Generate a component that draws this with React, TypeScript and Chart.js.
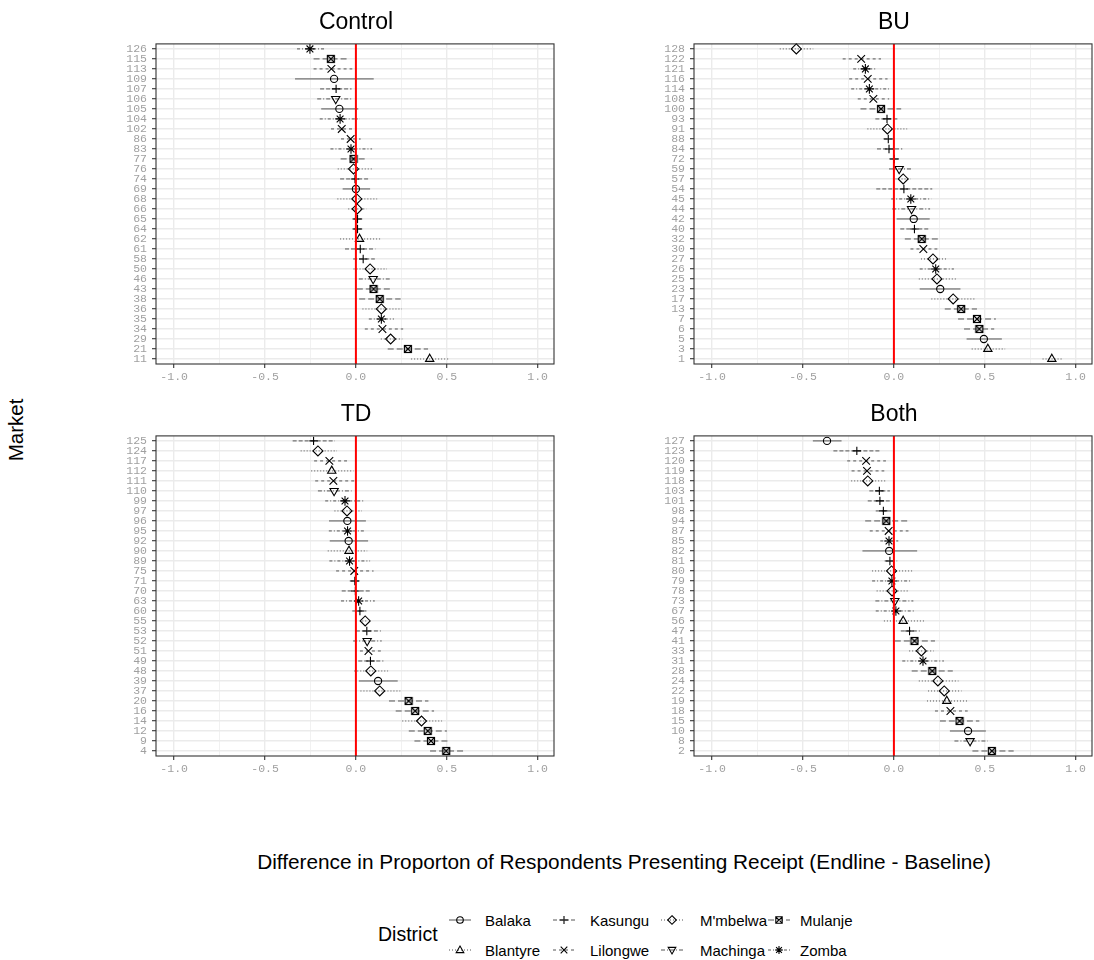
import React, { useEffect, useRef } from 'react';
import { Chart, registerables } from 'chart.js';

Chart.register(...registerables);

// ---------------- DATA ----------------
const districts = ['Balaka', 'Blantyre', 'Kasungu', 'Lilongwe', "M'mbelwa", 'Machinga', 'Mulanje', 'Zomba'];
const xTickValues = [-1, -0.75, -0.5, -0.25, 0, 0.25, 0.5, 0.75, 1];

// Control
const controlMarkets = ['126', '115', '113', '109', '107', '106', '105', '104', '102', '86', '83', '77', '76', '74', '69', '68', '66', '65', '64', '62', '61', '58', '50', '46', '43', '38', '36', '35', '34', '29', '21', '11'];
const controlDistrict = ['Zomba', 'Mulanje', 'Lilongwe', 'Balaka', 'Kasungu', 'Machinga', 'Balaka', 'Zomba', 'Lilongwe', 'Lilongwe', 'Zomba', 'Mulanje', "M'mbelwa", 'Kasungu', 'Balaka', "M'mbelwa", "M'mbelwa", 'Kasungu', 'Kasungu', 'Blantyre', 'Kasungu', 'Kasungu', "M'mbelwa", 'Machinga', 'Mulanje', 'Mulanje', "M'mbelwa", 'Zomba', 'Lilongwe', "M'mbelwa", 'Mulanje', 'Blantyre'];
const controlEst = [-0.253, -0.138, -0.135, -0.12, -0.109, -0.111, -0.091, -0.087, -0.078, -0.029, -0.027, -0.013, -0.013, -0.005, 0.0, 0.005, 0.007, 0.009, 0.009, 0.02, 0.024, 0.04, 0.078, 0.095, 0.097, 0.131, 0.14, 0.14, 0.146, 0.191, 0.286, 0.406];
const controlLo = [-0.324, -0.233, -0.233, -0.335, -0.197, -0.213, -0.191, -0.199, -0.137, -0.082, -0.14, -0.084, -0.1, -0.087, -0.073, -0.102, -0.042, -0.02, -0.02, -0.087, -0.06, -0.015, -0.013, 0.016, 0.005, 0.018, 0.036, 0.071, 0.049, 0.137, 0.175, 0.304];
const controlHi = [-0.169, -0.038, -0.02, 0.098, -0.024, -0.015, 0.013, 0.022, -0.02, 0.026, 0.089, 0.064, 0.089, 0.078, 0.078, 0.117, 0.058, 0.04, 0.04, 0.133, 0.107, 0.104, 0.171, 0.186, 0.2, 0.246, 0.253, 0.209, 0.26, 0.255, 0.397, 0.51];

// BU
const buMarkets = ['128', '122', '121', '116', '114', '108', '100', '93', '91', '88', '84', '72', '59', '57', '54', '45', '44', '42', '40', '32', '30', '27', '26', '25', '23', '17', '13', '7', '6', '5', '3', '1'];
const buDistrict = ["M'mbelwa", 'Lilongwe', 'Zomba', 'Lilongwe', 'Zomba', 'Lilongwe', 'Mulanje', 'Kasungu', "M'mbelwa", 'Kasungu', 'Kasungu', 'Kasungu', 'Machinga', "M'mbelwa", 'Kasungu', 'Zomba', 'Machinga', 'Balaka', 'Kasungu', 'Mulanje', 'Lilongwe', "M'mbelwa", 'Zomba', "M'mbelwa", 'Balaka', "M'mbelwa", 'Mulanje', 'Mulanje', 'Mulanje', 'Balaka', 'Blantyre', 'Blantyre'];
const buEst = [-0.537, -0.18, -0.157, -0.144, -0.135, -0.113, -0.071, -0.038, -0.036, -0.031, -0.027, 0.002, 0.029, 0.051, 0.055, 0.093, 0.097, 0.109, 0.113, 0.153, 0.162, 0.215, 0.23, 0.237, 0.255, 0.326, 0.37, 0.457, 0.47, 0.495, 0.517, 0.869];
const buLo = [-0.628, -0.282, -0.224, -0.246, -0.235, -0.199, -0.184, -0.102, -0.146, -0.058, -0.093, -0.027, -0.027, 0.009, -0.097, -0.015, -0.009, 0.015, 0.035, 0.06, 0.091, 0.149, 0.142, 0.137, 0.142, 0.206, 0.28, 0.353, 0.386, 0.4, 0.428, 0.818];
const buHi = [-0.444, -0.071, -0.095, -0.035, -0.027, -0.026, 0.04, 0.026, 0.073, -0.002, 0.046, 0.033, 0.097, 0.093, 0.211, 0.206, 0.199, 0.197, 0.189, 0.25, 0.239, 0.29, 0.33, 0.341, 0.366, 0.443, 0.457, 0.561, 0.552, 0.594, 0.612, 0.925];

// TD
const tdMarkets = ['125', '124', '117', '112', '111', '110', '99', '97', '96', '95', '92', '90', '89', '75', '71', '70', '63', '60', '55', '53', '52', '51', '49', '48', '39', '37', '20', '16', '14', '12', '9', '4'];
const tdDistrict = ['Kasungu', "M'mbelwa", 'Lilongwe', 'Blantyre', 'Lilongwe', 'Machinga', 'Zomba', "M'mbelwa", 'Balaka', 'Zomba', 'Balaka', 'Blantyre', 'Zomba', 'Lilongwe', 'Kasungu', 'Kasungu', 'Zomba', 'Kasungu', "M'mbelwa", 'Kasungu', 'Machinga', 'Lilongwe', 'Kasungu', "M'mbelwa", 'Balaka', "M'mbelwa", 'Mulanje', 'Mulanje', "M'mbelwa", 'Mulanje', 'Mulanje', 'Mulanje'];
const tdEst = [-0.233, -0.209, -0.146, -0.133, -0.124, -0.12, -0.06, -0.049, -0.047, -0.046, -0.04, -0.038, -0.035, -0.009, -0.006, -0.003, 0.015, 0.022, 0.051, 0.06, 0.062, 0.069, 0.08, 0.082, 0.122, 0.131, 0.29, 0.326, 0.361, 0.395, 0.413, 0.497];
const tdLo = [-0.348, -0.304, -0.23, -0.246, -0.224, -0.209, -0.169, -0.118, -0.148, -0.149, -0.144, -0.155, -0.146, -0.109, -0.034, -0.078, -0.082, -0.02, 0.035, 0.0, -0.015, 0.022, 0.013, -0.009, 0.016, 0.025, 0.182, 0.219, 0.255, 0.291, 0.322, 0.408];
const tdHi = [-0.115, -0.104, -0.049, -0.013, -0.009, -0.024, 0.051, 0.033, 0.055, 0.046, 0.067, 0.062, 0.078, 0.097, 0.022, 0.08, 0.104, 0.058, 0.067, 0.137, 0.142, 0.137, 0.151, 0.177, 0.23, 0.244, 0.399, 0.43, 0.474, 0.501, 0.506, 0.599];

// Both
const bothMarkets = ['127', '123', '120', '119', '118', '103', '101', '98', '94', '87', '85', '82', '81', '80', '79', '78', '73', '67', '56', '47', '41', '33', '31', '28', '24', '22', '19', '18', '15', '10', '8', '2'];
const bothDistrict = ['Balaka', 'Kasungu', 'Lilongwe', 'Lilongwe', "M'mbelwa", 'Kasungu', 'Kasungu', 'Kasungu', 'Mulanje', 'Lilongwe', 'Zomba', 'Balaka', 'Kasungu', "M'mbelwa", 'Zomba', "M'mbelwa", 'Machinga', 'Zomba', 'Blantyre', 'Kasungu', 'Mulanje', "M'mbelwa", 'Zomba', 'Mulanje', "M'mbelwa", "M'mbelwa", 'Blantyre', 'Lilongwe', 'Mulanje', 'Balaka', 'Machinga', 'Mulanje'];
const bothEst = [-0.368, -0.204, -0.153, -0.148, -0.144, -0.08, -0.077, -0.058, -0.042, -0.029, -0.027, -0.026, -0.022, -0.013, -0.011, -0.01, 0.005, 0.011, 0.051, 0.086, 0.113, 0.151, 0.16, 0.211, 0.242, 0.277, 0.291, 0.311, 0.361, 0.408, 0.419, 0.539];
const bothLo = [-0.446, -0.333, -0.257, -0.233, -0.235, -0.135, -0.144, -0.1, -0.158, -0.133, -0.075, -0.173, -0.051, -0.12, -0.12, -0.095, -0.102, -0.1, -0.055, 0.038, 0.005, 0.084, 0.046, 0.098, 0.137, 0.188, 0.182, 0.226, 0.253, 0.308, 0.333, 0.432];
const bothHi = [-0.288, -0.075, -0.044, -0.053, -0.044, -0.022, -0.011, -0.015, 0.075, 0.08, 0.024, 0.128, 0.018, 0.1, 0.1, 0.077, 0.107, 0.117, 0.166, 0.142, 0.226, 0.219, 0.275, 0.324, 0.355, 0.372, 0.404, 0.406, 0.47, 0.506, 0.517, 0.659];

// ---------------- STYLE / LAYOUT ----------------
const XMIN = -1.1;
const XMAX = 1.09;
const PW = 398;
const PH = 322;
const YW = 60;
const PT = 10;
const PR = 8;
const XH = 30;
const FONT = "'Liberation Sans', Arial, Helvetica, sans-serif";
const MONO = "'Liberation Mono', 'DejaVu Sans Mono', monospace";

type DStyle = { shape: string; rotation: number; radius: number; dash: number[] };
const districtStyle: Record<string, DStyle> = {
  Balaka: { shape: 'circle', rotation: 0, radius: 3.6, dash: [] },
  Blantyre: { shape: 'triangle', rotation: 0, radius: 4.8, dash: [1, 2] },
  Kasungu: { shape: 'cross', rotation: 0, radius: 4.2, dash: [4, 2] },
  Lilongwe: { shape: 'crossRot', rotation: 0, radius: 5.4, dash: [3, 3] },
  "M'mbelwa": { shape: 'rectRot', rotation: 0, radius: 5, dash: [1, 2] },
  Machinga: { shape: 'triangle', rotation: 180, radius: 4.8, dash: [4, 2, 1, 2] },
  Mulanje: { shape: 'rect', rotation: 0, radius: 4, dash: [6, 3] },
  Zomba: { shape: 'star', rotation: 0, radius: 4.8, dash: [3, 2, 1, 2] },
};

type Panel = {
  title: string; markets: string[]; district: string[]; est: number[]; lo: number[]; hi: number[];
  left: number; top: number;
};

const panels: Panel[] = [
  { title: 'Control', markets: controlMarkets, district: controlDistrict, est: controlEst, lo: controlLo, hi: controlHi, left: 156, top: 42 },
  { title: 'BU', markets: buMarkets, district: buDistrict, est: buEst, lo: buLo, hi: buHi, left: 694, top: 42 },
  { title: 'TD', markets: tdMarkets, district: tdDistrict, est: tdEst, lo: tdLo, hi: tdHi, left: 156, top: 434 },
  { title: 'Both', markets: bothMarkets, district: bothDistrict, est: bothEst, lo: bothLo, hi: bothHi, left: 694, top: 434 },
];

function makeMulanjeMarker(): HTMLCanvasElement {
  const c = document.createElement('canvas');
  c.width = 10;
  c.height = 10;
  const g = c.getContext('2d')!;
  g.strokeStyle = '#000';
  g.lineWidth = 1.2;
  g.strokeRect(1.5, 1.5, 7, 7);
  g.beginPath();
  g.moveTo(1.5, 1.5); g.lineTo(8.5, 8.5);
  g.moveTo(8.5, 1.5); g.lineTo(1.5, 8.5);
  g.stroke();
  return c;
}

const isMajor = (v: number) => Math.abs(v * 2 - Math.round(v * 2)) < 1e-9;

const panelPlugin = {
  id: 'panelDecor',
  beforeDatasetsDraw(chart: any) {
    const ctx = chart.ctx;
    const xs = chart.scales.x;
    const area = chart.chartArea;
    ctx.save();
    ctx.beginPath();
    ctx.rect(area.left, area.top, area.right - area.left, area.bottom - area.top);
    ctx.clip();
    chart.data.datasets.forEach((ds: any, di: number) => {
      const meta = chart.getDatasetMeta(di);
      ctx.save();
      ctx.strokeStyle = '#555';
      ctx.lineWidth = 1;
      ctx.setLineDash(ds.errDash || []);
      meta.data.forEach((pt: any, i: number) => {
        const y = pt.y;
        ctx.beginPath();
        ctx.moveTo(xs.getPixelForValue(ds.errLo[i]), y);
        ctx.lineTo(xs.getPixelForValue(ds.errHi[i]), y);
        ctx.stroke();
      });
      ctx.restore();
    });
    ctx.restore();
  },
  afterDatasetsDraw(chart: any) {
    const ctx = chart.ctx;
    const xs = chart.scales.x;
    const area = chart.chartArea;
    ctx.save();
    const x0 = xs.getPixelForValue(0);
    ctx.strokeStyle = '#ff0000';
    ctx.lineWidth = 2;
    ctx.beginPath();
    ctx.moveTo(x0, area.top);
    ctx.lineTo(x0, area.bottom);
    ctx.stroke();
    ctx.strokeStyle = '#333333';
    ctx.lineWidth = 1.1;
    ctx.strokeRect(area.left, area.top, area.right - area.left, area.bottom - area.top);
    ctx.restore();
  },
};

function buildConfig(p: Panel, mul: HTMLCanvasElement): any {
  const datasets = districts
    .filter((d) => p.district.includes(d))
    .map((d) => {
      const idx = p.district.map((x, i) => (x === d ? i : -1)).filter((i) => i >= 0);
      const st = districtStyle[d];
      return {
        label: d,
        data: idx.map((i) => ({ x: p.est[i], y: p.markets[i] })),
        errLo: idx.map((i) => p.lo[i]),
        errHi: idx.map((i) => p.hi[i]),
        errDash: st.dash,
        pointStyle: d === 'Mulanje' ? mul : st.shape,
        pointRotation: st.rotation,
        pointRadius: st.radius,
        pointBorderColor: '#000',
        pointBackgroundColor: 'rgba(0,0,0,0)',
        pointBorderWidth: 1.1,
        showLine: false,
      };
    });
  return {
    type: 'scatter',
    data: { datasets },
    plugins: [panelPlugin],
    options: {
      responsive: false,
      animation: false,
      devicePixelRatio: 1,
      events: [],
      layout: { padding: { top: PT, right: PR, left: 0, bottom: 0 } },
      plugins: { legend: { display: false }, tooltip: { enabled: false }, title: { display: false } },
      scales: {
        x: {
          type: 'linear',
          min: XMIN,
          max: XMAX,
          afterFit: (s: any) => { s.height = XH; },
          afterBuildTicks: (s: any) => { s.ticks = xTickValues.map((v) => ({ value: v })); },
          ticks: {
            autoSkip: false,
            maxRotation: 0,
            padding: 2,
            color: '#a0a0a0',
            font: { family: MONO, size: 11.5 },
            callback: (v: any) => (isMajor(Number(v)) ? Number(v).toFixed(1) : ''),
          },
          grid: {
            color: '#ebebeb',
            lineWidth: (c: any) => (c.tick && isMajor(c.tick.value) ? 1.4 : 0.7),
            tickLength: 4,
            tickWidth: 1.1,
            tickColor: (c: any) => (c.tick && isMajor(c.tick.value) ? '#333333' : 'rgba(0,0,0,0)'),
          },
          border: { display: false },
        },
        y: {
          type: 'category',
          labels: p.markets,
          offset: true,
          afterFit: (s: any) => { s.width = YW; },
          ticks: {
            autoSkip: false,
            padding: 5,
            color: '#a0a0a0',
            font: { family: MONO, size: 11.5 },
          },
          grid: {
            offset: false,
            color: '#ebebeb',
            lineWidth: 1.4,
            tickLength: 4,
            tickWidth: 1.1,
            tickColor: '#333333',
          },
          border: { display: false },
        },
      },
    },
  };
}

function Marker({ d, cx, cy }: { d: string; cx: number; cy: number }) {
  const s = { fill: 'none', stroke: '#000', strokeWidth: 1.1 } as any;
  switch (d) {
    case 'Balaka':
      return <circle cx={cx} cy={cy} r={3.3} {...s} />;
    case 'Blantyre':
      return <polygon points={`${cx},${cy - 4} ${cx + 3.8},${cy + 2.6} ${cx - 3.8},${cy + 2.6}`} {...s} />;
    case 'Kasungu':
      return <path d={`M${cx - 4},${cy} H${cx + 4} M${cx},${cy - 4} V${cy + 4}`} {...s} />;
    case 'Lilongwe':
      return <path d={`M${cx - 3.3},${cy - 3.3} L${cx + 3.3},${cy + 3.3} M${cx + 3.3},${cy - 3.3} L${cx - 3.3},${cy + 3.3}`} {...s} />;
    case "M'mbelwa":
      return <polygon points={`${cx},${cy - 4.3} ${cx + 4.3},${cy} ${cx},${cy + 4.3} ${cx - 4.3},${cy}`} {...s} />;
    case 'Machinga':
      return <polygon points={`${cx},${cy + 4} ${cx + 3.8},${cy - 2.6} ${cx - 3.8},${cy - 2.6}`} {...s} />;
    case 'Mulanje':
      return <path d={`M${cx - 3.2},${cy - 3.2} h6.4 v6.4 h-6.4 Z M${cx - 3.2},${cy - 3.2} L${cx + 3.2},${cy + 3.2} M${cx + 3.2},${cy - 3.2} L${cx - 3.2},${cy + 3.2}`} {...s} />;
    default:
      return <path d={`M${cx - 4},${cy} H${cx + 4} M${cx},${cy - 4} V${cy + 4} M${cx - 2.9},${cy - 2.9} L${cx + 2.9},${cy + 2.9} M${cx + 2.9},${cy - 2.9} L${cx - 2.9},${cy + 2.9}`} {...s} />;
  }
}

const legendCols = [
  ['Balaka', 'Blantyre'],
  ['Kasungu', 'Lilongwe'],
  ["M'mbelwa", 'Machinga'],
  ['Mulanje', 'Zomba'],
];
const legendColX = [449, 553, 661, 768];
const legendTextX = [485, 590, 700, 800];
const legendRowY = [920, 950];

export default function App() {
  const r0 = useRef<HTMLCanvasElement>(null);
  const r1 = useRef<HTMLCanvasElement>(null);
  const r2 = useRef<HTMLCanvasElement>(null);
  const r3 = useRef<HTMLCanvasElement>(null);
  const refs = [r0, r1, r2, r3];

  useEffect(() => {
    const mul = makeMulanjeMarker();
    const charts = panels.map((p, k) => new Chart(refs[k].current as HTMLCanvasElement, buildConfig(p, mul)));
    return () => charts.forEach((c) => c.destroy());
  }, []);

  const text = (content: string, cx: number, cy: number, size: number, extra: any = {}) => (
    <div
      style={{
        position: 'absolute', left: cx, top: cy, transform: 'translate(-50%, -50%)' + (extra.rotate ? ' rotate(-90deg)' : ''),
        fontFamily: FONT, fontSize: size, lineHeight: 1, whiteSpace: 'nowrap', color: '#000',
      }}
    >
      {content}
    </div>
  );

  return (
    <div style={{ position: 'absolute', left: 0, top: 0, width: 1094, height: 960, background: '#fff', overflow: 'hidden' }}>
      {panels.map((p, k) => (
        <canvas
          key={p.title}
          ref={refs[k]}
          width={YW + PW + PR}
          height={PT + PH + XH}
          style={{ position: 'absolute', left: p.left - YW, top: p.top - PT, width: YW + PW + PR, height: PT + PH + XH }}
        />
      ))}
      {panels.map((p) => (
        <React.Fragment key={'t' + p.title}>{text(p.title, p.left + 200, p.top - 21, 23)}</React.Fragment>
      ))}
      {text('Market', 15.5, 430, 20.5, { rotate: true })}
      {text('Difference in Proporton of Respondents Presenting Receipt (Endline - Baseline)', 624, 862, 20.8)}
      <div style={{ position: 'absolute', left: 378, top: 935, transform: 'translateY(-50%)', fontFamily: FONT, fontSize: 19.5, lineHeight: 1 }}>District</div>
      {legendCols.map((col, ci) =>
        col.map((d, ri) => {
          const st = districtStyle[d];
          const x = legendColX[ci];
          const y = legendRowY[ri];
          return (
            <React.Fragment key={d}>
              <svg width={24} height={16} style={{ position: 'absolute', left: x - 1, top: y - 8 }}>
                <line x1={1} y1={8} x2={23} y2={8} stroke="#555" strokeWidth={1} strokeDasharray={st.dash.length ? st.dash.join(',') : undefined} />
                <Marker d={d} cx={12} cy={8} />
              </svg>
              <div style={{ position: 'absolute', left: legendTextX[ci], top: y, transform: 'translateY(-50%)', fontFamily: FONT, fontSize: 15, lineHeight: 1, whiteSpace: 'nowrap' }}>
                {d}
              </div>
            </React.Fragment>
          );
        })
      )}
    </div>
  );
}
